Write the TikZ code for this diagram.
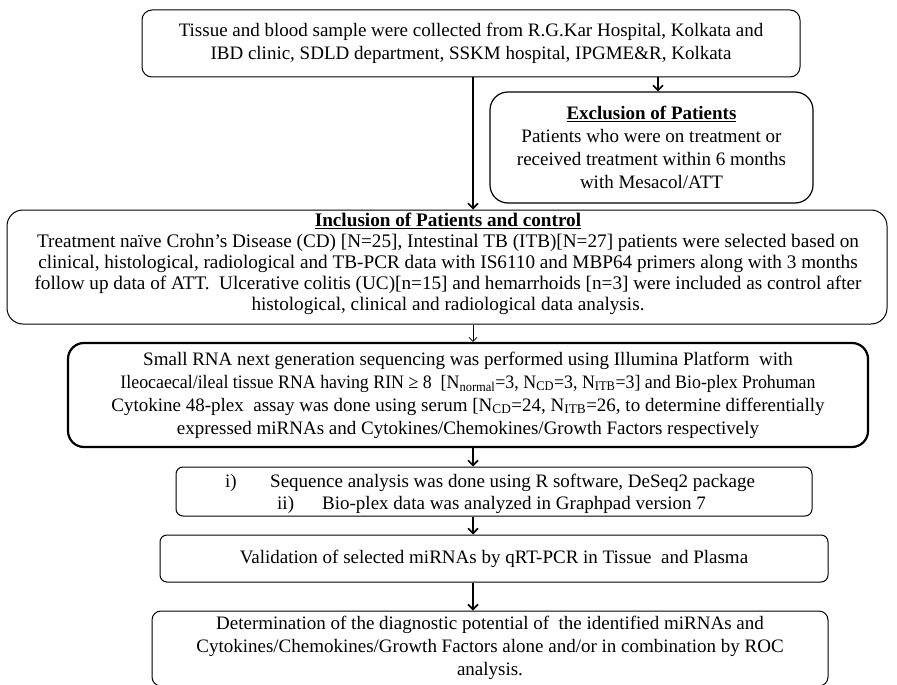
\documentclass[tikz,border=0pt]{standalone}
\usepackage{fontspec}
\setmainfont{Liberation Serif}
\usetikzlibrary{arrows.meta}
\begin{document}
\begin{tikzpicture}[x=1pt,y=-1pt,
  box/.style={draw, rounded corners=#1, inner sep=0pt, line width=1pt},
  txt/.style={inner sep=0pt, align=center, font=\fontsize{19}{23}\selectfont},
  ctxt/.style={inner sep=0pt, align=center, font=\fontsize{19.2}{21}\selectfont},
  ltxt/.style={inner sep=0pt, anchor=base west, font=\fontsize{19}{23}\selectfont},
  arr/.style={line width=1.6pt, -{Straight Barb[length=5pt,width=10pt]}},
  thinarr/.style={line width=0.8pt, -{Straight Barb[length=4pt,width=8pt]}}]
\fill[white] (0,0) rectangle (897,685);
\useasboundingbox (0,0) rectangle (897,685);
\coordinate (mx) at (473,0);
\coordinate (rx) at (658,0);
% box 1
\node[box=10pt, minimum width=658pt, minimum height=67pt] (b1) at (471,43.5) {};
\node[txt] (t1) at (b1.center) {Tissue and blood sample were collected from R.G.Kar Hospital, Kolkata and\\IBD clinic, SDLD department, SSKM hospital, IPGME\&R, Kolkata};
% box 2
\node[box=18pt, line width=1.2pt, minimum width=323pt, minimum height=111pt] (b2) at (651.5,147.5) {};
\node[txt] (t2) at (b2.center) {\underline{\textbf{Exclusion of Patients}}\\Patients who were on treatment or\\received treatment within 6 months\\with Mesacol/ATT};
% box 3
\node[box=16pt, minimum width=880pt, minimum height=114pt] (b3) at (447,267) {};
\node[ctxt] (t3) at (448,264) {\underline{\textbf{Inclusion of Patients and control}}\\Treatment naïve Crohn’s Disease (CD) [N=25], Intestinal TB (ITB)[N=27] patients were selected based on\\clinical, histological, radiological and TB-PCR data with IS6110 and MBP64 primers along with 3 months\\follow up data of ATT.\ \ Ulcerative colitis (UC)[n=15] and hemarrhoids [n=3] were included as control after\\histological, clinical and radiological data analysis.};
% box 4
\node[box=16pt, line width=2.2pt, minimum width=800pt, minimum height=104pt] (b4) at (468,395) {};
\node[txt] (t4) at (b4.center) {Small RNA next generation sequencing was performed using Illumina Platform\ \ with\\\scalebox{0.94}[1]{Ileocaecal/ileal tissue RNA having RIN ≥ 8\ \ [N\textsubscript{normal}=3, N\textsubscript{CD}=3, N\textsubscript{ITB}=3] and Bio-plex Prohuman}\\Cytokine 48-plex\ \ assay was done using serum [N\textsubscript{CD}=24, N\textsubscript{ITB}=26, to determine differentially\\expressed miRNAs and Cytokines/Chemokines/Growth Factors respectively};
% box 5
\node[box=7pt, minimum width=636pt, minimum height=49pt] (b5) at (494,491.5) {};
\node[ltxt] (t5a) at (225,487) {i)};
\node[ltxt] (t5b) at (270,487) {Sequence analysis was done using R software, DeSeq2 package};
\node[ltxt] (t5c) at (277,509) {ii)};
\node[ltxt] (t5d) at (322,509) {Bio-plex data was analyzed in Graphpad version 7};
% box 6
\node[box=7pt, minimum width=668pt, minimum height=47pt] (b6) at (494,558.5) {};
\node[txt] (t6) at (b6.center) {Validation of selected miRNAs by qRT-PCR in Tissue\ \ and Plasma};
% box 7
\node[box=9pt, minimum width=676pt, minimum height=75pt] (b7) at (490,648.5) {};
\node[txt] (t7) at (490,648) {Determination of the diagnostic potential of\ \ the identified miRNAs and\\Cytokines/Chemokines/Growth Factors alone and/or in combination by ROC\\analysis.};
% arrows
\draw[arr] (b1.south -| mx) -- (b3.north -| mx);
\draw[arr] (b1.south -| rx) -- (b2.north -| rx);
\draw[thinarr] (b3.south -| mx) -- (b4.north -| mx);
\draw[arr] (b4.south -| mx) -- (b5.north -| mx);
\draw[arr] (b5.south -| mx) -- (b6.north -| mx);
\draw[arr] (b6.south -| mx) -- (b7.north -| mx);
\end{tikzpicture}
\end{document}
